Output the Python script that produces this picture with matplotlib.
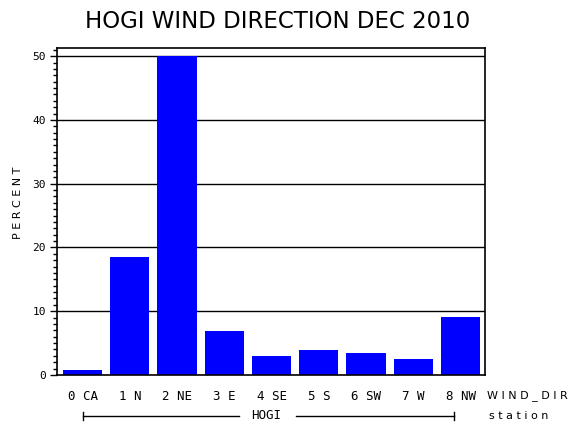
import matplotlib
matplotlib.use("Agg")
import matplotlib.pyplot as plt
from matplotlib.ticker import MultipleLocator

# data
wind_dir = ["0 CA", "1 N", "2 NE", "3 E", "4 SE", "5 S", "6 SW", "7 W", "8 NW"]
percent = [0.7, 18.5, 50.0, 6.9, 3.0, 3.9, 3.45, 2.5, 9.1]
y_ticks = [0, 10, 20, 30, 40, 50]
station = "HOGI"

mono = "DejaVu Sans Mono"
sans = "DejaVu Sans"

fig = plt.figure(figsize=(5.7, 4.3), dpi=100)
ax = fig.add_axes([0.1, 0.128, 0.751, 0.76])

x = list(range(len(wind_dir)))
for yv in y_ticks[1:]:
    ax.axhline(yv, color="black", lw=1.0, zorder=1)
ax.bar(x, percent, width=0.83, color="#0000ff", zorder=2)

ax.set_xlim(-0.54, len(wind_dir) - 1 + 0.52)
ax.set_ylim(0, 51.25)
ax.set_yticks(y_ticks)
ax.set_yticklabels([str(v) for v in y_ticks], family=mono, fontsize=8)
ax.yaxis.set_minor_locator(MultipleLocator(1))
ax.tick_params(axis="y", which="major", length=5, width=1, direction="out", pad=3)
ax.tick_params(axis="y", which="minor", length=3, width=1, direction="out")
ax.set_xticks(x)
ax.set_xticklabels(wind_dir, family=mono, fontsize=9)
ax.tick_params(axis="x", length=0, pad=11)
for sp in ax.spines.values():
    sp.set_linewidth(1.2)

ax.set_ylabel(" ".join("PERCENT"), family=sans, fontsize=8)
ax.yaxis.set_label_coords(-0.079, 0.526)

fig.text(0.487, 0.951, "HOGI WIND DIRECTION DEC 2010", ha="center", va="center",
         fontsize=16.5, family=sans)

# group label row below the categories
trans = ax.get_xaxis_transform()
yl = -0.125
ax.text(1.005, -0.062, " ".join("WIND_DIR"), transform=ax.transAxes, family=sans,
        fontsize=8, ha="left", va="center")
ax.text(1.01, yl, " ".join("station"), transform=ax.transAxes, family=sans,
        fontsize=8, ha="left", va="center")
ax.text(3.88, yl, station, transform=trans, family=mono,
        fontsize=9, ha="center", va="center")
ax.plot([0, 3.31], [yl, yl], transform=trans, color="black", lw=1, clip_on=False)
ax.plot([4.52, 7.86], [yl, yl], transform=trans, color="black", lw=1, clip_on=False)
for xe in (0, 7.86):
    ax.plot([xe, xe], [yl - 0.013, yl + 0.013], transform=trans, color="black",
            lw=1, clip_on=False)

fig.savefig("out.png", dpi=100)
